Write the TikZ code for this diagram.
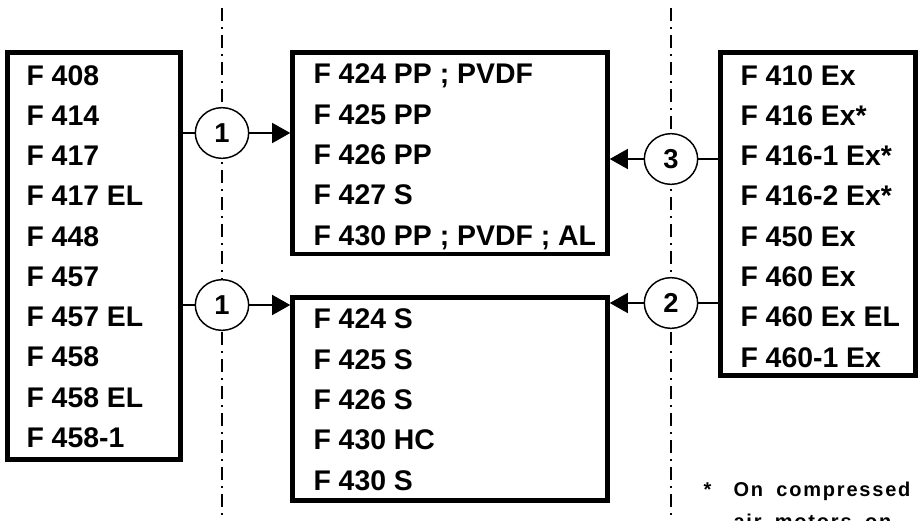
\documentclass[tikz,border=0pt]{standalone}
\usepackage{fontspec}
\setmainfont{Liberation Sans}
\newfontfamily\notefont[LetterSpace=9]{Liberation Sans}
\usepackage{tikz}
\usetikzlibrary{arrows.meta,shapes.geometric}
\tikzset{every picture/.style={line width=0.75pt}}
\tikzset{
  listbox/.style={draw, line width=3.4pt, inner sep=0pt},
  listtext/.style={font=\fontsize{21.3}{30.2}\selectfont\bfseries, align=left, inner sep=0pt, anchor=base west},
  numdisc/.style={ellipse, draw, line width=1.1pt, fill=white, minimum width=40pt, minimum height=38pt, inner sep=0pt, font=\fontsize{20.5}{21}\selectfont\bfseries},
  axisline/.style={line width=0.9pt, dash pattern=on 9.75pt off 4.5pt on 1.5pt off 4.5pt},
  feedline/.style={line width=1pt},
  feedarrow/.style={line width=1pt, -{Triangle[length=13.5pt,width=15pt]}},
  notetext/.style={font=\notefont\fontsize{15}{24}\selectfont\bfseries, align=left, inner sep=0pt, anchor=base west}
}

\begin{document}
\begin{tikzpicture}[x=0.75pt,y=0.75pt,yscale=-1,xscale=1]
\useasboundingbox (0,0) rectangle (918,521);

%Straight Lines (dash-dot axes)
\draw [axisline] (222,8) -- (222,521) ;
\draw [axisline] (671,8) -- (671,521) ;

%Shape: Rectangle (left list) -- text placed at its last baseline
\node [listbox, minimum width=129.75pt, minimum height=305.25pt] (pumps) at (94,256) {} ;
\node [listtext] (pumpsList) at (26,447.5) {F 408\\F 414\\F 417\\F 417 EL\\F 448\\F 457\\F 457 EL\\F 458\\F 458 EL\\F 458-1} ;
%Shape: Rectangle (upper middle list)
\node [listbox, minimum width=236.25pt, minimum height=151.1pt] (tankUp) at (450,153.25) {} ;
\node [listtext] (tankUpList) at (313,245) {F 424 PP ; PVDF\\F 425 PP\\F 426 PP\\F 427 S\\F 430 PP ; PVDF ; AL} ;
%Shape: Rectangle (lower middle list)
\node [listbox, minimum width=236.25pt, minimum height=152.25pt] (tankLow) at (450,399) {} ;
\node [listtext] (tankLowList) at (313,490) {F 424 S\\F 425 S\\F 426 S\\F 430 HC\\F 430 S} ;
%Shape: Rectangle (right list)
\node [listbox, minimum width=146.25pt, minimum height=242.25pt] (drives) at (818,214) {} ;
\node [listtext] (drivesList) at (740,367) {F 410 Ex\\F 416 Ex*\\F 416-1 Ex*\\F 416-2 Ex*\\F 450 Ex\\F 460 Ex\\F 460 Ex EL\\F 460-1 Ex} ;

%Shape: Circles
\node [numdisc] (oneUp) at (222,133) {1} ;
\node [numdisc] (oneLow) at (222,305) {1} ;
\node [numdisc] (three) at (671,159) {3} ;
\node [numdisc] (two) at (671,303) {2} ;

%Straight Lines (left side)
\draw [feedline] (oneUp -| pumps.east) -- (oneUp.west) ;
\draw [feedarrow] (oneUp.east) -- (oneUp.east -| tankUp.west) ;
\draw [feedline] (oneLow -| pumps.east) -- (oneLow.west) ;
\draw [feedarrow] (oneLow.east) -- (oneLow.east -| tankLow.west) ;
%Straight Lines (right side)
\draw [feedline] (three -| drives.west) -- (three.east) ;
\draw [feedarrow] (three.west) -- (three.west -| tankUp.east) ;
\draw [feedline] (two -| drives.west) -- (two.east) ;
\draw [feedarrow] (two.west) -- (two.west -| tankLow.east) ;

%Footnote
\node [notetext] (noteStar) at (703,496.7) {*} ;
\node [notetext] (noteText) at (733,528.7) {On\hspace{10pt}compressed\\air\hspace{10pt}motors\hspace{10pt}on} ;

\end{tikzpicture}
\end{document}
